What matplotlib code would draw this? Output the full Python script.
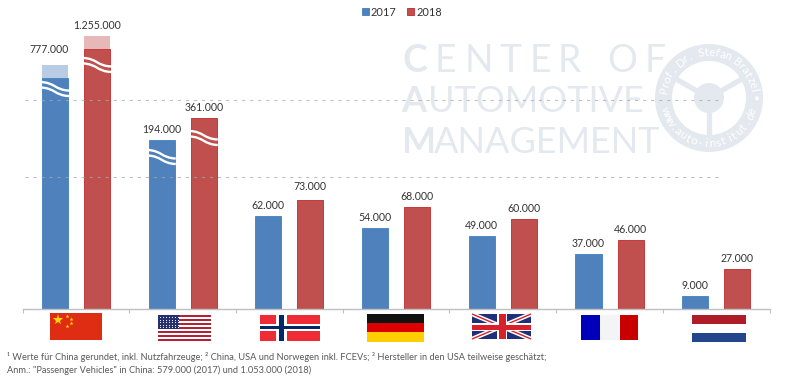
import numpy as np
import matplotlib
matplotlib.use('Agg')
import matplotlib.pyplot as plt
from matplotlib.patches import Rectangle, Circle, PathPatch
from matplotlib.path import Path

plt.rcParams['font.family'] = ['Lato', 'DejaVu Sans']

countries = ['China', 'USA', 'Norwegen', 'Deutschland', 'UK', 'Frankreich', 'Niederlande']
labels_2017 = ['777.000', '194.000', '62.000', '54.000', '49.000', '37.000', '9.000']
labels_2018 = ['1.255.000', '361.000', '73.000', '68.000', '60.000', '46.000', '27.000']
# bar heights as drawn, the first ones sit on a broken axis
drawn_2017 = [163000, 112900, 62000, 54000, 49000, 37000, 9000]
drawn_2018 = [182400, 127600, 73000, 68000, 60000, 46000, 27000]
# passenger vehicles in China, the rest of the bar is the lighter part
solid_2017 = [154300, 112900, 62000, 54000, 49000, 37000, 9000]
solid_2018 = [173700, 127600, 73000, 68000, 60000, 46000, 27000]
breaks_2017 = [151600, 106200]
breaks_2018 = [167700, 118900]
grid_values = [139900, 88400]

BLUE, BLUE_EDGE, BLUE_LIGHT = '#4f81bd', '#3f7fc0', '#b8cce4'
RED, RED_EDGE, RED_LIGHT = '#c0504d', '#c0272a', '#e6b9b8'
WM = '#e4e9f0'
PX = 668  # data units per pixel

fig = plt.figure(figsize=(8, 3.82), dpi=100)

# background layer in pixel coordinates (watermark, flags)
bg = fig.add_axes([0, 0, 1, 1], zorder=0)
bg.set_xlim(0, 800); bg.set_ylim(382, 0); bg.axis('off')

ax = fig.add_axes([22.6 / 800, (382 - 309) / 382, 747 / 800, 309 / 382], zorder=1)
ax.patch.set_alpha(0)
ax.set_xlim(-0.5, 6.5)
ax.set_ylim(0, 309 * PX)

fg = fig.add_axes([0, 0, 1, 1], zorder=2)
fg.set_xlim(0, 800); fg.set_ylim(382, 0); fg.axis('off')

# watermark text
for ch, x, w in zip('CENTEROF', [402, 435, 465, 500, 530, 558, 607, 645],
                    ['bold'] + ['normal'] * 7):
    bg.text(x, 72, ch, fontsize=27, color=WM, weight=w, ha='left', va='baseline')
bg.text(401, 112, 'A', fontsize=26, color=WM, weight='bold', va='baseline')
bg.text(428, 112, 'UTOMOTIVE', fontsize=26, color=WM, va='baseline')
bg.text(401, 153, 'M', fontsize=26, color=WM, weight='bold', va='baseline')
bg.text(434, 153, 'ANAGEMENT', fontsize=26, color=WM, va='baseline')

# steering wheel logo
cx, cy = 709, 98
bg.add_patch(Circle((cx, cy), 54, color=WM, lw=0))
bg.add_patch(Circle((cx, cy), 37, color='white', lw=0))
bg.add_patch(Circle((cx, cy), 15, color=WM, lw=0))
for ang in [90, 210, 330]:
    a = np.radians(ang)
    bg.plot([cx, cx + 42 * np.cos(a)], [cy, cy + 42 * np.sin(a)], color=WM, lw=3.8,
            solid_capstyle='butt')


def ring_text(s, start, stop, top):
    for ch, ang in zip(s, np.linspace(start, stop, len(s))):
        a = np.radians(ang)
        rot = ang - 90 if top else ang + 90
        bg.text(cx + 45.5 * np.cos(a), cy - 45.5 * np.sin(a), ch, fontsize=8.3, color='white',
                rotation=rot, ha='center', va='center', rotation_mode='anchor')


ring_text('Prof. Dr. Stefan Bratzel', 170, 10, True)
ring_text('www.auto-institut.de', 197, 343, False)
ring_text('•', 0, 0, True)

# bars
x = np.arange(len(countries))
off, w = 0.197, 0.244
for xs, drawn, solid, light in [(x - off, drawn_2017, solid_2017, BLUE_LIGHT),
                                (x + off, drawn_2018, solid_2018, RED_LIGHT)]:
    ax.bar(xs, np.array(drawn) - np.array(solid), w, bottom=solid, color=light, lw=0)
b17 = ax.bar(x - off, solid_2017, w, color=BLUE, edgecolor=BLUE_EDGE, lw=0.6, label='2017')
b18 = ax.bar(x + off, solid_2018, w, color=RED, edgecolor=RED_EDGE, lw=0.6, label='2018')

ax.hlines(grid_values, -0.556, 6.04, color='#a8a8a8', lw=0.75,
          linestyles=(0, (3, 4.7)), alpha=0.75, zorder=5)


def break_mark(xc, yv):
    for top in [yv, yv - 5.5 * PX]:
        x0, x1 = xc - w / 2 - 0.01, xc + w / 2 + 0.01
        xm = (x0 + x1) / 2
        verts = [(x0, top), (xm, top - 0.5 * PX), (xm, top - 8 * PX), (x1, top - 8.5 * PX)]
        ax.add_patch(PathPatch(Path(verts, [Path.MOVETO, Path.CURVE4, Path.CURVE4, Path.CURVE4]),
                               fc='none', ec='white', lw=1.7, zorder=6))


for i, yv in enumerate(breaks_2017):
    break_mark(x[i] - off, yv)
for i, yv in enumerate(breaks_2018):
    break_mark(x[i] + off, yv)

# value labels
for i in range(len(countries)):
    shift = (-6, 10) if i == 0 else (0, 5)
    ax.annotate(labels_2017[i], (x[i] - off, drawn_2017[i]), xytext=shift, textcoords='offset pixels',
                ha='center', va='bottom', fontsize=7.6, color='#333333')
    shift = (0, 8) if i == 2 else (0, 5)
    ax.annotate(labels_2018[i], (x[i] + off, drawn_2018[i]), xytext=shift, textcoords='offset pixels',
                ha='center', va='bottom', fontsize=7.6, color='#333333')

# axis
for s in ['top', 'left', 'right']:
    ax.spines[s].set_visible(False)
ax.spines['bottom'].set_color('#bfbfbf')
ax.spines['bottom'].set_linewidth(1)
ax.set_yticks([])
ax.set_xticks(np.arange(-0.5, 7), labels=[])
ax.tick_params(axis='x', length=3, width=0.8, color='#bfbfbf')

ax.legend(handles=[b17, b18], loc='upper center', bbox_to_anchor=(0.5075, 1.0), ncol=2, frameon=False,
          fontsize=7.9, handlelength=0.62, handleheight=0.62, handletextpad=0.2, columnspacing=0.95,
          labelcolor='#333333', borderaxespad=0.2)


# flags, all in pixels on the front layer
def rect(x0, y0, x1, y1, c, z=1):
    fg.add_patch(Rectangle((x0, y0), x1 - x0, y1 - y0, fc=c, lw=0, zorder=z))


# China
rect(50, 313, 102, 340, '#de2d12')
fg.plot([58], [320], marker='*', ms=8, color='#ffd800', mew=0)
for px, py in [(67, 316), (71, 319), (71, 323), (67, 326)]:
    fg.plot([px], [py], marker='*', ms=3, color='#ffd800', mew=0)
# USA
for i in range(13):
    y0 = 315 + i * 2
    rect(158, y0, 211, y0 + 2, '#b22234' if i % 2 == 0 else 'white')
rect(158, 315, 179, 329, '#27306e')
for row in range(5):
    for col in range(7):
        fg.plot([160 + col * 3], [317 + row * 2.6], marker='.', ms=1.4, color='white', mew=0)
# Norway
rect(260, 315, 320, 341, '#ef2b35')
rect(276, 315, 287, 341, 'white')
rect(260, 324, 320, 331, 'white')
rect(279, 315, 284, 341, '#002868')
rect(260, 326, 320, 329, '#002868')
# Germany
rect(367, 314, 424, 323, '#111111')
rect(367, 323, 424, 332, '#dd0000')
rect(367, 332, 424, 342, '#ffce00')
# UK
ux0, uy0, ux1, uy1 = 472, 314, 531, 339
rect(ux0, uy0, ux1, uy1, '#1f2f78')
fg.plot([ux0, ux1], [uy0, uy1], color='white', lw=3.2, solid_capstyle='butt')
fg.plot([ux0, ux1], [uy1, uy0], color='white', lw=3.2, solid_capstyle='butt')
fg.plot([ux0, ux1], [uy0, uy1], color='#d8202a', lw=1, solid_capstyle='butt')
fg.plot([ux0, ux1], [uy1, uy0], color='#d8202a', lw=1, solid_capstyle='butt')
rect(ux0, 323, ux1, 331, 'white', 3)
rect(497, uy0, 507, uy1, 'white', 3)
rect(ux0, 324.5, ux1, 329.5, '#d8202a', 3)
rect(498.5, uy0, 505.5, uy1, '#d8202a', 3)
# France
rect(581, 315, 600, 340, '#0000bb')
rect(600, 315, 619, 340, '#f2f4f6')
rect(620, 315, 638, 340, '#c80000')
# Netherlands
rect(692, 315, 746, 324, '#ae1c28')
rect(692, 333, 746, 342, '#21468b')

# footnote
fg.text(7, 357, '¹ Werte für China gerundet, inkl. Nutzfahrzeuge; ² China, USA und Norwegen inkl. FCEVs; '
        '³ Hersteller in den USA teilweise geschätzt;', fontsize=6.7, color='#595959', va='center')
fg.text(7, 370, 'Anm.: "Passenger Vehicles" in China: 579.000 (2017) und 1.053.000 (2018)', fontsize=6.7,
        color='#595959', va='center')

fig.savefig('out.png', dpi=100)
